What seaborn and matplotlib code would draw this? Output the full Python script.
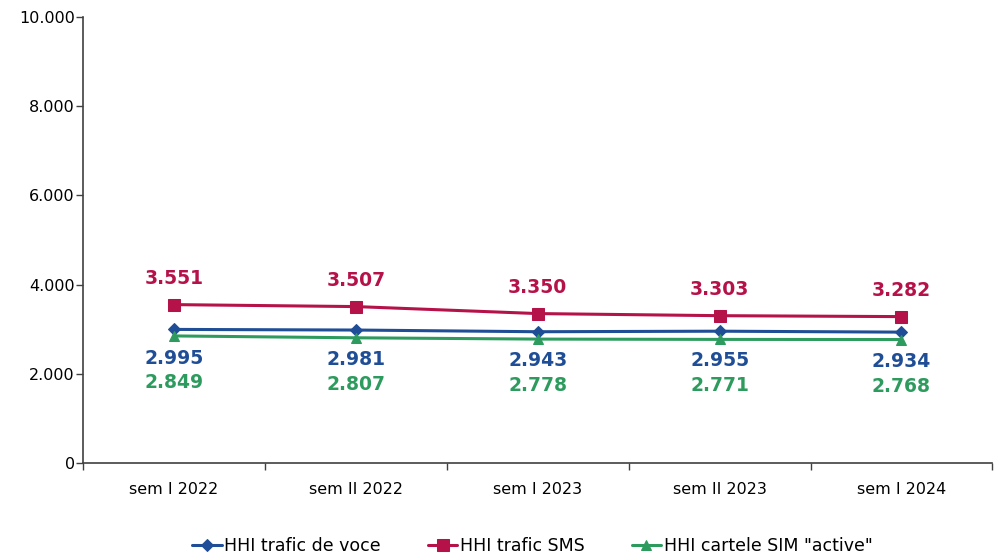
import matplotlib
matplotlib.use("Agg")
import matplotlib.pyplot as plt
import seaborn as sns
import pandas as pd
from matplotlib.ticker import FuncFormatter, FixedLocator

categories = ["sem I 2022", "sem II 2022", "sem I 2023", "sem II 2023", "sem I 2024"]
voce = [2995, 2981, 2943, 2955, 2934]
sms = [3551, 3507, 3350, 3303, 3282]
sim = [2849, 2807, 2778, 2771, 2768]
series_names = ["HHI trafic de voce", "HHI trafic SMS", 'HHI cartele SIM "active"']
y_ticks = [0, 2000, 4000, 6000, 8000, 10000]

sns.set_theme(style="white")
plt.rcParams['font.family'] = ['DejaVu Sans']

fig = plt.figure(figsize=(9.95, 5.58), dpi=100)
ax = fig.add_axes([0.0834, 0.1703, 0.914, 0.7992])

colors = ["#1F4E96", "#B5124A", "#2E9B5E"]
markers = ["D", "s", "^"]
msizes = [6.5, 9, 7.5]
data = [voce, sms, sim]
label_offsets = [-21, 19, -33.5]

pos = list(range(len(categories)))
for name, vals, c, m, ms, off in zip(series_names, data, colors, markers, msizes, label_offsets):
    df = pd.DataFrame({"x": pos, "y": vals})
    sns.lineplot(data=df, x="x", y="y", ax=ax, color=c, marker=m, markersize=ms,
                 markeredgecolor=c, linewidth=2.2, label=name)
    for xi, v in zip(pos, vals):
        ax.annotate(f"{v:,}".replace(",", "."), (xi, v), xytext=(0, off),
                    textcoords="offset points", ha="center", va="center",
                    color=c, fontsize=13.5, fontweight="bold")

ax.set_xlim(-0.5, len(categories) - 0.5)
ax.set_ylim(0, 10000)
ax.set_yticks(y_ticks)
ax.yaxis.set_major_formatter(FuncFormatter(lambda v, p: f"{int(v):,}".replace(",", ".")))
ax.xaxis.set_major_locator(FixedLocator([i - 0.5 for i in range(len(categories) + 1)]))
ax.xaxis.set_major_formatter(FuncFormatter(lambda v, p: ""))
ax.xaxis.set_minor_locator(FixedLocator(pos))
ax.set_xticklabels(categories, minor=True)
ax.tick_params(axis="x", which="major", length=5, width=1, color="#404040", direction="out", bottom=True)
ax.tick_params(axis="x", which="minor", length=0, labelsize=11.5, pad=14, labelcolor="#000000")
ax.tick_params(axis="y", length=5, width=1, color="#404040", direction="out", left=True,
               labelsize=11.5, pad=1, labelcolor="#000000")
ax.set_xlabel("")
ax.set_ylabel("")
for s in ["top", "right"]:
    ax.spines[s].set_visible(False)
for s in ["left", "bottom"]:
    ax.spines[s].set_color("#404040")
    ax.spines[s].set_linewidth(1.2)

ax.get_legend().remove()
handles, labels = ax.get_legend_handles_labels()
leg = fig.legend(handles, labels, loc="center", bbox_to_anchor=(0.535, 0.022), ncol=3,
                 frameon=False, prop={"family": "DejaVu Sans", "size": 12.5}, columnspacing=2.7,
                 handlelength=1.7, handletextpad=0.15)
for t in leg.get_texts():
    t.set_color("#000000")

fig.savefig("out.png", dpi=100)
